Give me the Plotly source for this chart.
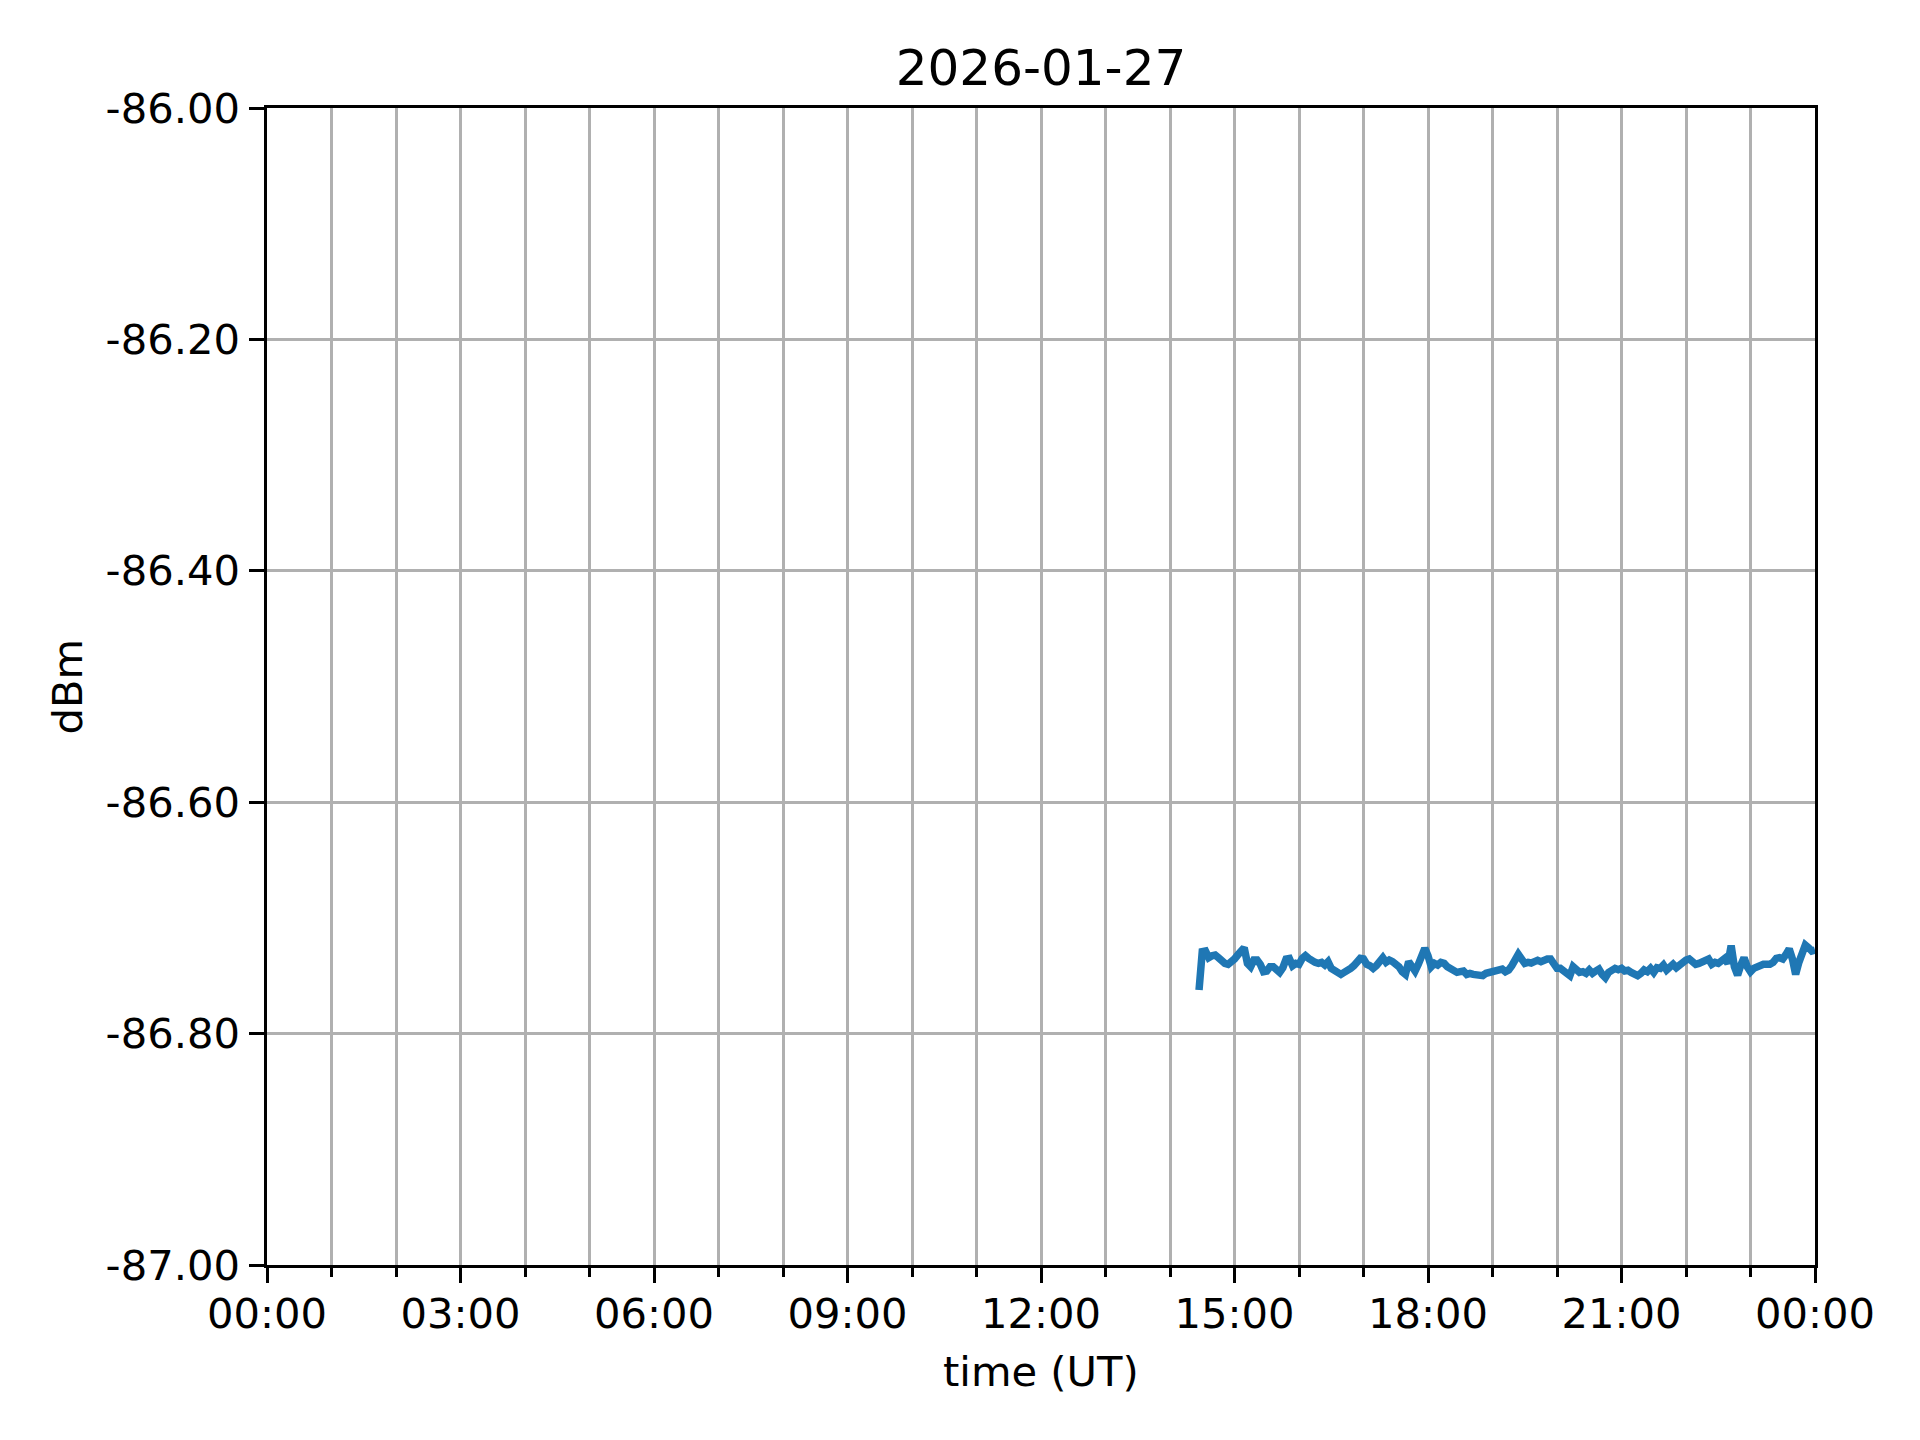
import pandas as pd
import plotly.graph_objects as go

TITLE = "2026-01-27"
X_LABEL = "time (UT)"
Y_LABEL = "dBm"

# Samples every 3 minutes, 14:27 UT -> 24:00 UT
start_time = "2026-01-27 14:27"
sample_minutes = 3
dbm_values = [
    -86.7623, -86.7292, -86.7286, -86.7344, -86.7327, -86.7321, -86.7344, -86.7373,
    -86.7393, -86.7401, -86.7384, -86.7355, -86.7321, -86.7278, -86.7257, -86.7393,
    -86.7422, -86.7364, -86.7364, -86.7401, -86.7465, -86.7459, -86.7422, -86.7422,
    -86.7450, -86.7471, -86.7430, -86.7355, -86.7350, -86.7413, -86.7393, -86.7401,
    -86.7350, -86.7327, -86.7350, -86.7373, -86.7384, -86.7393, -86.7384, -86.7407,
    -86.7378, -86.7436, -86.7450, -86.7459, -86.7488, -86.7471, -86.7459, -86.7436,
    -86.7413, -86.7384, -86.7350, -86.7355, -86.7401, -86.7413, -86.7436, -86.7413,
    -86.7364, -86.7344, -86.7384, -86.7364, -86.7378, -86.7393, -86.7422, -86.7465,
    -86.7488, -86.7378, -86.7422, -86.7459, -86.7401, -86.7306, -86.7263, -86.7327,
    -86.7422, -86.7393, -86.7407, -86.7384, -86.7393, -86.7422, -86.7436, -86.7445,
    -86.7471, -86.7465, -86.7459, -86.7488, -86.7479, -86.7488, -86.7494, -86.7499,
    -86.7499, -86.7479, -86.7471, -86.7459, -86.7448, -86.7436, -86.7442, -86.7465,
    -86.7450, -86.7413, -86.7344, -86.7315, -86.7355, -86.7393, -86.7384, -86.7390,
    -86.7378, -86.7367, -86.7378, -86.7364, -86.7355, -86.7355, -86.7384, -86.7436,
    -86.7436, -86.7459, -86.7479, -86.7499, -86.7422, -86.7459, -86.7471, -86.7465,
    -86.7479, -86.7450, -86.7479, -86.7459, -86.7442, -86.7488, -86.7517, -86.7471,
    -86.7450, -86.7436, -86.7448, -86.7436, -86.7459, -86.7453, -86.7471, -86.7488,
    -86.7499, -86.7479, -86.7450, -86.7465, -86.7436, -86.7471, -86.7430, -86.7436,
    -86.7407, -86.7450, -86.7422, -86.7401, -86.7430, -86.7401, -86.7373, -86.7364,
    -86.7355, -86.7378, -86.7401, -86.7393, -86.7378, -86.7373, -86.7355, -86.7401,
    -86.7384, -86.7393, -86.7378, -86.7350, -86.7393, -86.7240, -86.7422, -86.7494,
    -86.7407, -86.7344, -86.7422, -86.7465, -86.7436, -86.7422, -86.7422, -86.7401,
    -86.7401, -86.7401, -86.7384, -86.7350, -86.7344, -86.7355, -86.7315, -86.7269,
    -86.7355, -86.7488, -86.7384, -86.7306, -86.7234, -86.7257, -86.7286, -86.7278,
]

x_range = ["2026-01-27 00:00", "2026-01-28 00:00"]
x_tick_times = ["2026-01-27 00:00", "2026-01-27 03:00", "2026-01-27 06:00",
                "2026-01-27 09:00", "2026-01-27 12:00", "2026-01-27 15:00",
                "2026-01-27 18:00", "2026-01-27 21:00", "2026-01-28 00:00"]
x_tick_labels = ["00:00", "03:00", "06:00", "09:00", "12:00", "15:00",
                 "18:00", "21:00", "00:00"]
y_range = [-87.0, -86.0]
y_tick_values = [-87.0, -86.8, -86.6, -86.4, -86.2, -86.0]
y_tick_labels = ["-87.00", "-86.80", "-86.60", "-86.40", "-86.20", "-86.00"]

times = pd.date_range(start=start_time, periods=len(dbm_values),
                      freq=f"{sample_minutes}min")

FONT = "DejaVu Sans"
PX = 300 / 72.0  # matplotlib points -> pixels at 300 dpi
GRID = "#b0b0b0"

# The page body has an 8 px margin; size the figure so the plot area lands
# where the reference's is.
W, H = 1912, 1432

fig = go.Figure()
fig.add_trace(go.Scatter(
    x=times, y=dbm_values, mode="lines",
    line=dict(color="#1f77b4", width=7.5),
    showlegend=False,
))

axis_common = dict(
    showline=True, linecolor="black", linewidth=0.8 * PX, mirror=True,
    ticks="outside", ticklen=3.5 * PX, tickwidth=0.8 * PX, tickcolor="black",
    showgrid=True, gridcolor=GRID, gridwidth=0.8 * PX,
    zeroline=False,
    tickfont=dict(family=FONT, size=10 * PX, color="black"),
)

fig.update_layout(
    width=W, height=H,
    paper_bgcolor="white", plot_bgcolor="white",
    margin=dict(l=259, r=105, t=100, b=175, autoexpand=False),
    font=dict(family=FONT, size=10 * PX, color="black"),
    title=dict(text=TITLE, x=(1041 - 8) / W, xanchor="center", y=1 - 59 / H,
               yanchor="middle", font=dict(family=FONT, size=12 * PX, color="black")),
    xaxis=dict(
        type="date", range=x_range,
        tickmode="array", tickvals=x_tick_times, ticktext=x_tick_labels,
        ticklabelstandoff=-5,
        minor=dict(dtick=3600000, tick0="2026-01-27", ticks="outside",
                   ticklen=2 * PX, tickwidth=0.6 * PX, tickcolor="black",
                   showgrid=True, gridcolor=GRID, gridwidth=0.8 * PX),
        **axis_common,
    ),
    yaxis=dict(
        range=y_range, tickmode="array", tickvals=y_tick_values,
        ticktext=y_tick_labels, ticklabelstandoff=1,
        **axis_common,
    ),
    annotations=[
        dict(text=X_LABEL, xref="paper", yref="paper", x=0.5, y=-106 / 1157,
             xanchor="center", yanchor="middle", showarrow=False,
             font=dict(family=FONT, size=10 * PX, color="black")),
        dict(text=Y_LABEL, xref="paper", yref="paper", x=-200 / 1548, y=0.5,
             xanchor="center", yanchor="middle", showarrow=False, textangle=-90,
             font=dict(family=FONT, size=10 * PX, color="black")),
    ],
)

fig.write_html("out.html")
